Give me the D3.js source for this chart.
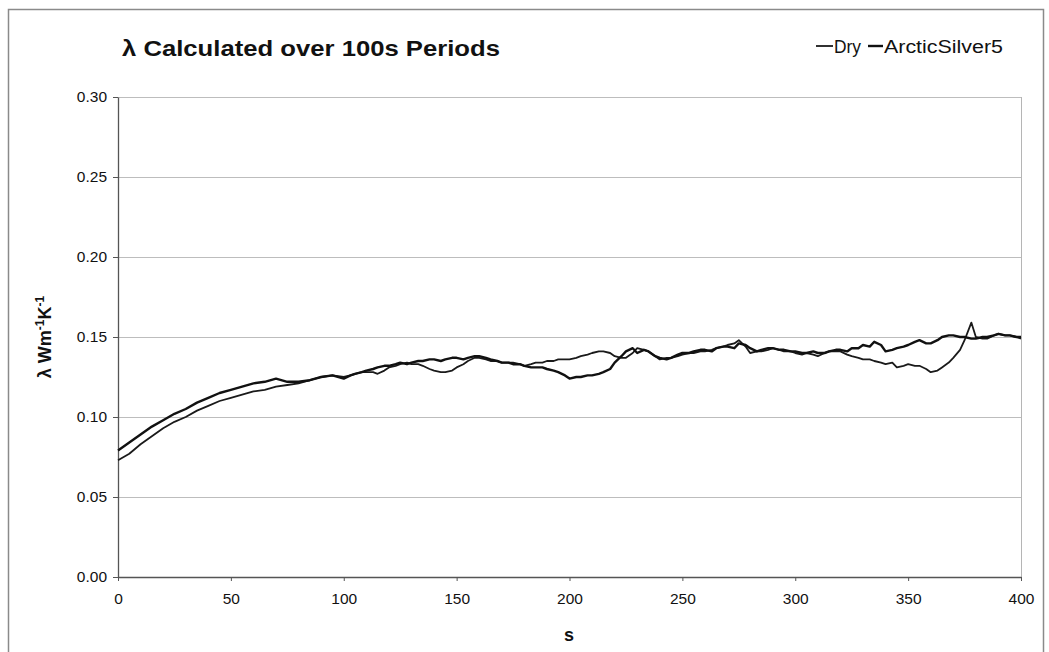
<!DOCTYPE html>
<html><head><meta charset="utf-8">
<script src="https://cdn.jsdelivr.net/npm/d3@7"></script>
<style>
html,body{margin:0;padding:0;background:#fff;}
svg{display:block;}
text{font-family:"Liberation Sans",Arial,sans-serif;fill:#111;}
</style></head>
<body>
<svg id="chart" width="1049" height="652"></svg>
<script>
const title = "λ Calculated over 100s Periods";
const seriesNames = ["Dry", "ArcticSilver5"];
const xTicks = [0, 50, 100, 150, 200, 250, 300, 350, 400];
const yTicks = [0, 0.05, 0.10, 0.15, 0.20, 0.25, 0.30];

const asX = [0,5,10,15,20,25,30,35,40,45,50,55,60,65,70,75,80,85,90,95,100,103,105,108,110,113,115,118,120,123,125,128,130,133,135,138,140,143,145,148,150,153,155,158,160,163,165,168,170,173,175,178,180,183,185,188,190,193,195,198,200,203,205,208,210,213,215,218,220,223,225,228,230,233,235,238,240,243,245,248,250,253,255,258,260,263,265,268,270,273,275,278,280,283,285,288,290,293,295,298,300,303,305,308,310,313,315,318,320,323,325,328,330,333,335,338,340,343,345,348,350,353,355,358,360,363,365,368,370,373,375,378,380,383,385,388,390,393,395,398,400];
const asY = [0.079,0.084,0.089,0.094,0.098,0.102,0.105,0.109,0.112,0.115,0.117,0.119,0.121,0.122,0.124,0.122,0.122,0.123,0.125,0.126,0.124,0.126,0.127,0.128,0.129,0.130,0.131,0.132,0.132,0.133,0.134,0.133,0.134,0.135,0.135,0.136,0.136,0.135,0.136,0.137,0.137,0.136,0.137,0.138,0.138,0.137,0.136,0.135,0.134,0.134,0.133,0.133,0.132,0.131,0.131,0.131,0.130,0.129,0.128,0.126,0.124,0.125,0.125,0.126,0.126,0.127,0.128,0.130,0.134,0.138,0.141,0.143,0.140,0.142,0.141,0.138,0.137,0.136,0.137,0.139,0.140,0.140,0.141,0.142,0.142,0.141,0.143,0.144,0.144,0.143,0.146,0.145,0.143,0.141,0.142,0.143,0.143,0.142,0.142,0.141,0.141,0.140,0.140,0.141,0.140,0.140,0.141,0.142,0.142,0.141,0.143,0.143,0.145,0.144,0.147,0.145,0.141,0.142,0.143,0.144,0.145,0.147,0.148,0.146,0.146,0.148,0.150,0.151,0.151,0.150,0.150,0.149,0.149,0.150,0.150,0.151,0.152,0.151,0.151,0.150,0.150];

const dryX = [0,5,10,15,20,25,30,35,40,45,50,55,60,65,70,75,80,85,90,95,100,103,105,108,110,113,115,118,120,123,125,128,130,133,135,138,140,143,145,148,150,153,155,158,160,163,165,168,170,173,175,178,180,183,185,188,190,193,195,198,200,203,205,208,210,213,215,218,220,223,225,228,230,233,235,238,240,243,245,248,250,253,255,258,260,263,265,268,270,273,275,278,280,283,285,288,290,293,295,298,300,303,305,308,310,313,315,318,320,323,325,328,330,333,335,338,340,343,345,348,350,353,355,358,360,363,365,368,370,373,375,378,380,383,385,388,390,393,395,398,400];
const dryY = [0.073,0.077,0.083,0.088,0.093,0.097,0.100,0.104,0.107,0.110,0.112,0.114,0.116,0.117,0.119,0.120,0.121,0.123,0.125,0.126,0.125,0.126,0.127,0.128,0.128,0.128,0.127,0.129,0.131,0.132,0.133,0.134,0.133,0.133,0.132,0.130,0.129,0.128,0.128,0.129,0.131,0.133,0.135,0.137,0.137,0.136,0.135,0.135,0.134,0.134,0.134,0.133,0.132,0.133,0.134,0.134,0.135,0.135,0.136,0.136,0.136,0.137,0.138,0.139,0.140,0.141,0.141,0.140,0.138,0.137,0.137,0.140,0.143,0.142,0.141,0.138,0.136,0.137,0.137,0.138,0.139,0.140,0.140,0.141,0.141,0.142,0.143,0.144,0.145,0.146,0.148,0.144,0.140,0.141,0.141,0.142,0.143,0.142,0.141,0.141,0.140,0.139,0.140,0.139,0.138,0.140,0.141,0.141,0.141,0.139,0.138,0.137,0.136,0.136,0.135,0.134,0.133,0.134,0.131,0.132,0.133,0.132,0.132,0.130,0.128,0.129,0.131,0.134,0.137,0.142,0.148,0.159,0.150,0.149,0.149,0.151,0.152,0.151,0.151,0.150,0.149];

const svg = d3.select("#chart");
const L = 118, R = 1021, T = 97, B = 577;
const x = d3.scaleLinear().domain([0, 400]).range([L, R]);
const y = d3.scaleLinear().domain([0, 0.30]).range([B, T]);

// outer border
svg.append("rect").attr("x", 8.5).attr("y", 9.5).attr("width", 1035).attr("height", 660)
  .attr("fill", "none").attr("stroke", "#8a8a8a").attr("stroke-width", 1.5);

// gridlines
svg.append("g").selectAll("line").data(yTicks.slice(1)).join("line")
  .attr("x1", L).attr("x2", R).attr("y1", d => Math.round(y(d)) + 0.5).attr("y2", d => Math.round(y(d)) + 0.5)
  .attr("stroke", "#bdbdbd").attr("stroke-width", 1);
svg.append("line").attr("x1", R + 0.5).attr("x2", R + 0.5).attr("y1", T).attr("y2", B)
  .attr("stroke", "#b5b5b5");

// axes
const yAxis = d3.axisLeft(y).tickValues(yTicks).tickFormat(d3.format(".2f")).tickSizeInner(5).tickSizeOuter(0).tickPadding(6);
const gy = svg.append("g").attr("transform", `translate(${L},0)`).call(yAxis);
const xAxis = d3.axisBottom(x).tickValues(xTicks).tickFormat(d3.format("d")).tickSizeInner(4).tickSizeOuter(0).tickPadding(12);
const gx = svg.append("g").attr("transform", `translate(0,${B})`).call(xAxis);
[gx, gy].forEach(g => {
  g.select(".domain").attr("stroke", "#555").attr("stroke-width", 1.3);
  g.selectAll(".tick line").attr("stroke", "#555");
  g.selectAll("text").attr("fill", "#222");
});
gy.selectAll("text").attr("font-size", 15.5);
gx.selectAll("text").attr("font-size", 15.5);

// lines
const line = d3.line().x(d => x(d[0])).y(d => y(d[1]));
const dryData = dryX.map((v, i) => [v, dryY[i]]);
const asData = asX.map((v, i) => [v, asY[i]]);
svg.append("path").datum(dryData).attr("d", line).attr("fill", "none").attr("stroke", "#1a1a1a").attr("stroke-width", 1.8).attr("stroke-linejoin", "round");
svg.append("path").datum(asData).attr("d", line).attr("fill", "none").attr("stroke", "#111").attr("stroke-width", 2.4).attr("stroke-linejoin", "round");

// title
svg.append("text").attr("x", 122).attr("y", 56).attr("font-size", 22).attr("font-weight", "bold")
  .attr("textLength", 378).attr("lengthAdjust", "spacingAndGlyphs").text(title);

// legend
const lg = svg.append("g");
lg.append("line").attr("x1", 816).attr("x2", 833).attr("y1", 46).attr("y2", 46).attr("stroke", "#1a1a1a").attr("stroke-width", 1.8);
lg.append("text").attr("x", 834).attr("y", 53).attr("font-size", 18).attr("textLength", 27).attr("lengthAdjust", "spacingAndGlyphs").text(seriesNames[0]);
lg.append("line").attr("x1", 868).attr("x2", 883).attr("y1", 46).attr("y2", 46).attr("stroke", "#111").attr("stroke-width", 2.4);
lg.append("text").attr("x", 884).attr("y", 53).attr("font-size", 18).attr("textLength", 119).attr("lengthAdjust", "spacingAndGlyphs").text(seriesNames[1]);

// axis titles
svg.append("text").attr("x", 569).attr("y", 641).attr("text-anchor", "middle").attr("font-size", 18).attr("font-weight", "bold").text("s");
const yt = svg.append("text").attr("transform", "translate(51,337) rotate(-90)").attr("text-anchor", "middle").attr("font-size", 18).attr("font-weight", "bold");
yt.append("tspan").text("λ Wm");
yt.append("tspan").attr("dy", -7).attr("font-size", 12).text("-1");
yt.append("tspan").attr("dy", 7).text("K");
yt.append("tspan").attr("dy", -7).attr("font-size", 12).text("-1");
</script>
</body></html>
